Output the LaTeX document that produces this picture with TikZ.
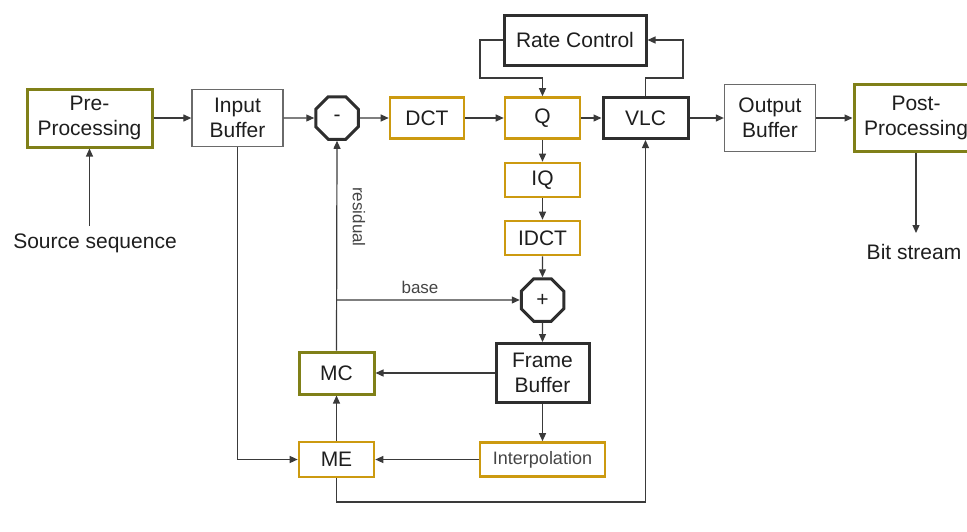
\documentclass[tikz,border=0pt]{standalone}
\usepackage{fontspec}
\setmainfont{Liberation Sans}
\usetikzlibrary{shapes.geometric,arrows.meta}
\definecolor{myolive}{HTML}{808018}
\definecolor{mygold}{HTML}{CC9A10}
\definecolor{mydark}{HTML}{2E2E2E}
\definecolor{mygray}{HTML}{6A6A6A}
\definecolor{linec}{HTML}{3A3A3A}
\definecolor{txt}{HTML}{1E1E1E}
\definecolor{lighttxt}{HTML}{454545}
\begin{document}
\begin{tikzpicture}[x=1pt,y=-1pt,
  font=\fontsize{21}{25}\selectfont,
  box/.style={rectangle, inner sep=0pt, align=center, text=txt},
  thinbox/.style={box, draw=mygray, line width=1.3pt},
  olivebox/.style={box, draw=myolive, line width=3pt},
  goldbox/.style={box, draw=mygold, line width=2.6pt},
  darkbox/.style={box, draw=mydark, line width=3pt},
  oct/.style={regular polygon, regular polygon sides=8, minimum size=46pt, draw=mydark, line width=3pt, inner sep=0pt, text=txt},
  conn/.style={draw=linec, line width=1.2pt, -{Triangle[length=8pt,width=7pt]}},
  small/.style={font=\fontsize{17}{19}\selectfont, text=lighttxt}
]
\useasboundingbox (0,0) rectangle (967,531);

% nodes
\node[olivebox, minimum width=125pt, minimum height=58pt] (pre) at (89.5,118) {Pre-\\Processing};
\node[thinbox, minimum width=91pt, minimum height=57pt] (ib) at (237.5,118) {Input\\Buffer};
\node[oct] (minus) at (337,118) {-};
\node[goldbox, minimum width=74pt, minimum height=41pt] (dct) at (427,118) {DCT};
\node[goldbox, minimum width=75pt, minimum height=41pt] (q) at (542.5,118) {Q};
\node[darkbox, minimum width=85pt, minimum height=41pt] (vlc) at (645.5,118) {VLC};
\node[darkbox, minimum width=142pt, minimum height=50pt] (rc) at (575,40) {Rate Control};
\node[thinbox, minimum width=91pt, minimum height=67pt] (ob) at (770,118) {Output\\Buffer};
\node[olivebox, minimum width=124pt, minimum height=67pt] (post) at (916,118) {Post-\\Processing};
\node[goldbox, minimum width=75pt, minimum height=34pt] (iq) at (542.5,180) {IQ};
\node[goldbox, minimum width=75pt, minimum height=34pt] (idct) at (542.5,238) {IDCT};
\node[oct] (plus) at (542.5,300) {+};
\node[darkbox, minimum width=93pt, minimum height=59pt] (fb) at (542.5,373) {Frame\\Buffer};
\node[goldbox, minimum width=125pt, minimum height=34pt, font=\fontsize{18}{20}\selectfont, text=lighttxt] (interp) at (542.5,459.5) {Interpolation};
\node[olivebox, minimum width=75pt, minimum height=42pt] (mc) at (336.5,373) {MC};
\node[goldbox, minimum width=75pt, minimum height=35pt] (me) at (336.5,459.5) {ME};

\node[text=txt] (src) at (95,243) {Source sequence};
\node[text=txt] (bs) at (914,252) {Bit stream};
\node[small] (baselbl) at (420,287) {base};
\node[small, rotate=-90] (reslbl) at (359,217) {residual};

% coordinates
\coordinate (s1) at (89.5,226);
\coordinate (b1) at (916,233);
\coordinate (rcl) at (480,78);
\coordinate (vr1) at (683,78);
\coordinate (bj) at (336.5,300);
\coordinate (bt) at (645.5,502);

% connectors
\draw[conn] (s1) -- (pre.south);
\draw[conn] (post.south) -- (b1);
\draw[conn] (pre.east) -- (ib.west);
\draw[conn] (ib.east) -- (minus.west);
\draw[conn] (minus.east) -- (dct.west);
\draw[conn] (dct.east) -- (q.west);
\draw[conn] (q.east) -- (vlc.west);
\draw[conn] (vlc.east) -- (ob.west);
\draw[conn] (ob.east) -- (post.west);
\draw[conn] (rc.west) -| (rcl) -| (q.north);
\draw[conn] (vlc.north) |- (vr1) |- (rc.east);
\draw[conn] (q.south) -- (iq.north);
\draw[conn] (iq.south) -- (idct.north);
\draw[conn] (idct.south) -- (plus.north);
\draw[conn] (plus.south) -- (fb.north);
\draw[conn] (mc.north) -- (minus.south);
\draw[conn] (bj) -- (plus.west);
\draw[conn] (fb.west) -- (mc.east);
\draw[conn] (fb.south) -- (interp.north);
\draw[conn] (interp.west) -- (me.east);
\draw[conn] (me.north) -- (mc.south);
\draw[conn] (ib.south) |- (me.west);
\draw[conn] (me.south) |- (bt) -- (vlc.south);
\end{tikzpicture}
\end{document}
